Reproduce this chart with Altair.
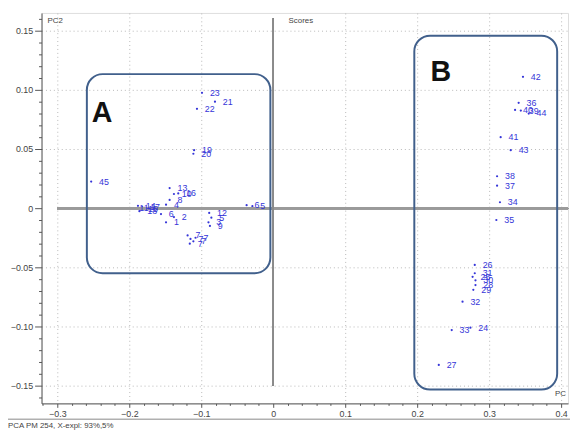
import altair as alt
import pandas as pd

# ---- data (PCA scores) ----
labels = ["45", "23", "21", "22", "19", "20", "11", "14", "15", "17", "18",
          "13", "10", "16", "8", "4", "6", "1", "2", "12", "5", "3", "9",
          "7", "7", "7", "7", "7", "6", "5",
          "42", "36", "40", "39", "44", "41", "43", "38", "37", "34", "35",
          "26", "31", "25", "30", "28", "29", "32", "33", "24", "27"]
pc1 = [-0.253, -0.099, -0.081, -0.106, -0.110, -0.111, -0.197, -0.188, -0.185, -0.182, -0.186,
       -0.144, -0.138, -0.132, -0.144, -0.149, -0.156, -0.149, -0.138, -0.089, -0.086, -0.090, -0.088,
       -0.119, -0.115, -0.111, -0.116, -0.108, -0.037, -0.029,
       0.347, 0.341, 0.336, 0.344, 0.355, 0.316, 0.330, 0.311, 0.311, 0.315, 0.310,
       0.280, 0.280, 0.277, 0.281, 0.281, 0.278, 0.263, 0.248, 0.274, 0.230]
pc2 = [0.0225, 0.0975, 0.090, 0.084, 0.049, 0.046, 0.000, 0.002, -0.001, 0.001, -0.0025,
       0.017, 0.012, 0.0125, 0.007, 0.003, -0.005, -0.012, -0.0075, -0.004, -0.008, -0.012, -0.015,
       -0.023, -0.026, -0.028, -0.030, -0.025, 0.0025, 0.0017,
       0.111, 0.089, 0.083, 0.0825, 0.080, 0.060, 0.049, 0.027, 0.019, 0.005, -0.010,
       -0.048, -0.055, -0.058, -0.061, -0.065, -0.069, -0.079, -0.103, -0.101, -0.1325]

# group boxes (data coordinates)
box_names = ["A", "B"]
box_x0 = [-0.259, 0.196]
box_x1 = [-0.004, 0.3945]
box_y0 = [-0.055, -0.1533]
box_y1 = [0.1133, 0.1458]
letter_x = [-0.238, 0.233]
letter_y = [0.080, 0.115]

x_ticks = [round(-0.32 + 0.02 * i, 2) for i in range(37)]
y_ticks = [round(-0.16 + 0.01 * i, 2) for i in range(33)]

XDOM = [-0.322, 0.4096]
YDOM = [-0.165, 0.165]
W, H = 534, 396

scores = pd.DataFrame({"pc1": pc1, "pc2": pc2, "label": labels})
boxes = pd.DataFrame({"name": box_names, "x0": box_x0, "x1": box_x1,
                      "y0": box_y0, "y1": box_y1, "lx": letter_x, "ly": letter_y})

FONT = "Liberation Sans Narrow, Arial Narrow, Liberation Sans, sans-serif"
BLUE = "#3535d8"

xs = alt.Scale(domain=XDOM, nice=False, zero=False)
ys = alt.Scale(domain=YDOM, nice=False, zero=False)

x_axis = alt.Axis(
    title=None, values=x_ticks, tickCount=200, orient="bottom",
    labelExpr="abs(round(datum.value*100)) % 10 === 0 && datum.value >= -0.3 ? (datum.value === 0 ? '0' : format(datum.value, '.1f')) : ''",
    tickSize={"condition": {"test": "abs(round(datum.value*100)) % 10 === 0", "value": 4}, "value": 2},
    grid=True,
    gridOpacity={"condition": {"test": "abs(round(datum.value*100)) % 10 === 0 && datum.value !== 0 && datum.value >= -0.3", "value": 1}, "value": 0},
    gridDash=[1, 3], gridColor="#b8b8b8", gridWidth=1,
    domainColor="#555", tickColor="#555", labelColor="#444",
    labelFont=FONT, labelFontSize=9, labelPadding=2, labelFlush=False, labelOverlap=False,
)
y_axis = alt.Axis(
    title=None, values=y_ticks, tickCount=200, orient="left",
    labelExpr="abs(round(datum.value*100)) % 5 === 0 && abs(datum.value) <= 0.151 ? (datum.value === 0 ? '0' : format(datum.value, '.2f')) : ''",
    tickSize={"condition": {"test": "abs(round(datum.value*100)) % 5 === 0", "value": 7}, "value": 3},
    grid=True,
    gridOpacity={"condition": {"test": "abs(round(datum.value*100)) % 5 === 0 && datum.value !== 0", "value": 1}, "value": 0},
    gridDash=[1, 3], gridColor="#b8b8b8", gridWidth=1,
    domainColor="#555", tickColor="#555", labelColor="#444",
    labelFont=FONT, labelFontSize=9, labelPadding=2, labelFlush=False, labelOverlap=False,
)

base = alt.Chart(scores)

points = base.mark_circle(size=5, color=BLUE, opacity=1).encode(
    x=alt.X("pc1:Q", scale=xs, axis=x_axis),
    y=alt.Y("pc2:Q", scale=ys, axis=y_axis),
)
texts = base.mark_text(align="left", baseline="middle", dx=8, font=FONT,
                       fontSize=9, color=BLUE).encode(
    x=alt.X("pc1:Q"),
    y=alt.Y("pc2:Q"),
    text="label:N",
)

hzero = alt.Chart(scores).mark_rule(color="#9a9a9a", strokeWidth=2).encode(
    x=alt.XDatum(-0.3), x2=alt.value(W), y=alt.YDatum(0)
)
vzero = alt.Chart(scores).mark_rule(color="#8a8a8a", strokeWidth=1).encode(
    x=alt.XDatum(0), y=alt.YDatum(0.16), y2=alt.Y2Datum(-0.15)
)

rects = alt.Chart(boxes).mark_rect(filled=False, stroke="#41608c", strokeWidth=2,
                                   cornerRadius=16, fillOpacity=0).encode(
    x=alt.X("x0:Q"), x2="x1:Q",
    y=alt.Y("y0:Q"), y2="y1:Q",
)
letters = alt.Chart(boxes).mark_text(font="Liberation Sans Narrow, Liberation Sans, sans-serif",
                                     fontWeight="bold", fontSize=29, color="#111",
                                     align="center", baseline="middle").encode(
    x=alt.X("lx:Q"), y=alt.Y("ly:Q"), text="name:N"
)

ann = pd.DataFrame({"t": ["x"]})
def label(txt, px, py, align="left", size=8):
    return alt.Chart(ann).mark_text(text=txt, align=align, baseline="middle", font=FONT,
                                    fontSize=size, color="#444").encode(
        x=alt.value(px), y=alt.value(py))

t_scores = label("Scores", 263, 8, "center")
t_pc2 = label("PC2", 6, 8)
t_pc = label("PC", 532, 387, "right")
t_footer = label("PCA PM 254, X-expl: 93%,5%", -34, 419)
bottom_line = alt.Chart(ann).mark_rule(color="#888", strokeWidth=1).encode(
    x=alt.value(-34), x2=alt.value(W + 2), y=alt.value(412))

chart = alt.layer(
    points, hzero, vzero, rects, texts, letters,
    t_scores, t_pc2, t_pc, t_footer, bottom_line
).properties(
    width=W, height=H,
    autosize=alt.AutoSizeParams(type="none"),
    padding={"left": 34, "top": 2, "right": 2, "bottom": 27},
).configure_view(stroke=None).configure(background="white")

chart.save("out.html", embed_options={"renderer": "svg", "actions": False})
